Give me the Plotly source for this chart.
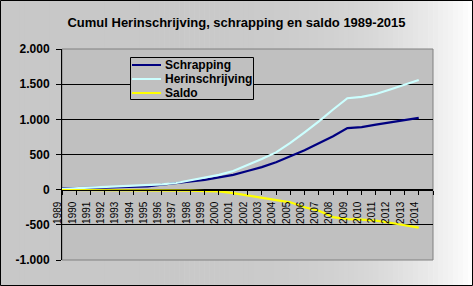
import plotly.graph_objects as go

# ---- data ----
years = list(range(1989, 2015))
schrapping = [20, 20, 25, 30, 35, 45, 45, 70, 90, 110, 140, 175, 210, 265, 320, 390,
              470, 560, 660, 760, 875, 890, 925, 955, 985, 1020]
herinschrijving = [10, 20, 30, 40, 45, 55, 60, 75, 95, 130, 170, 210, 265, 345, 435, 530,
                   665, 815, 970, 1140, 1300, 1320, 1360, 1425, 1490, 1560]
saldo = [-5, -5, -5, -10, -10, -10, -15, -10, -10, -15, -20, -25, -50, -80, -110, -145,
         -180, -250, -300, -390, -420, -425, -440, -470, -500, -540]
series_names = ["Schrapping", "Herinschrijving", "Saldo"]
series_colors = ["#000080", "#CCFFFF", "#FFFF00"]

axis_years = list(range(1989, 2016))
x_ticktext = [str(y) for y in range(1989, 2015)] + [""]
y_tickvals = [2000, 1500, 1000, 500, 0, -500, -1000]
y_ticktext = ["2.000", "1.500", "1.000", "500", "0", "-500", "-1.000"]
title_text = "Cumul Herinschrijving, schrapping en saldo 1989-2015"

# ---- geometry ----
W, H = 473, 286
L, R, T, B = 62, 40, 49, 26
PW, PH = W - L - R, H - T - B


def px(x):
    return (x - L) / PW


def py(y):
    return (H - B - y) / PH


fig = go.Figure()
for name, vals, col in zip(series_names, [schrapping, herinschrijving, saldo], series_colors):
    fig.add_trace(go.Scatter(x=years, y=vals, mode="lines", name=name,
                             line=dict(color=col, width=2.2), showlegend=False))

shapes = []
# background gradient strips
n = 95
for i in range(n):
    x0 = i * W / n
    x1 = (i + 1) * W / n + 0.6
    t = (i + 0.5) / n
    g = int(round(200 + 55 * t ** 5))
    c = f"rgb({g},{g},{g})"
    shapes.append(dict(type="rect", xref="paper", yref="paper", layer="below",
                       x0=px(x0), x1=px(x1), y0=py(H), y1=py(0),
                       fillcolor=c, line=dict(width=0)))
# plot area
shapes.append(dict(type="rect", xref="paper", yref="paper", layer="below",
                   x0=0, x1=1, y0=0, y1=1, fillcolor="#C0C0C0",
                   line=dict(color="#808080", width=1)))
# outer border
shapes.append(dict(type="rect", xref="paper", yref="paper", layer="above",
                   x0=px(0.5), x1=px(W - 0.5), y0=py(H - 0.5), y1=py(0.5),
                   line=dict(color="black", width=1)))
# manual legend
lx0, lx1, ly0, ly1 = 130.5, 253.5, 57.5, 99.5
shapes.append(dict(type="rect", xref="paper", yref="paper", layer="above",
                   x0=px(lx0), x1=px(lx1), y0=py(ly1), y1=py(ly0),
                   fillcolor="#C0C0C0", line=dict(color="black", width=1)))
annotations = []
rows = [65, 79, 93]
for name, col, ry in zip(series_names, series_colors, rows):
    shapes.append(dict(type="line", xref="paper", yref="paper", layer="above",
                       x0=px(132), x1=px(161), y0=py(ry), y1=py(ry),
                       line=dict(color=col, width=2)))
    annotations.append(dict(text=name, xref="paper", yref="paper", x=px(162.5), y=py(ry),
                            xanchor="left", yanchor="middle", showarrow=False,
                            font=dict(family="Liberation Sans, Arial", size=12,
                                      color="black", weight="bold")))

fig.update_layout(
    width=W, height=H,
    margin=dict(l=L, r=R, t=T, b=B, pad=0),
    paper_bgcolor="rgba(0,0,0,0)",
    plot_bgcolor="rgba(0,0,0,0)",
    title=dict(text=title_text, x=0.5, xref="container", xanchor="center",
               y=1 - 22.5 / H, yref="container", yanchor="middle",
               font=dict(family="Liberation Sans, Arial", size=13, color="black",
                         weight="bold")),
    shapes=shapes,
    annotations=annotations,
    showlegend=False,
    xaxis=dict(range=[1989, 2015], tickvals=axis_years, ticktext=x_ticktext,
               tickangle=-90, ticks="outside", ticklen=4, tickcolor="black",
               tickfont=dict(family="Liberation Sans, Arial", size=10, color="black"),
               ticklabelshift=-4, ticklabelstandoff=3,
               showline=True, linecolor="black", linewidth=1,
               showgrid=False, zeroline=False,
               anchor="free", position=1 / 3),
    yaxis=dict(range=[-1000, 2000], tickvals=y_tickvals, ticktext=y_ticktext,
               ticks="outside", ticklen=5, tickcolor="black",
               tickfont=dict(family="Liberation Sans, Arial", size=12, color="black",
                             weight="bold"),
               ticklabelstandoff=4,
               showline=True, linecolor="black", linewidth=1,
               showgrid=True, gridcolor="black", gridwidth=1, zeroline=False),
)

fig.write_html("out.html")
